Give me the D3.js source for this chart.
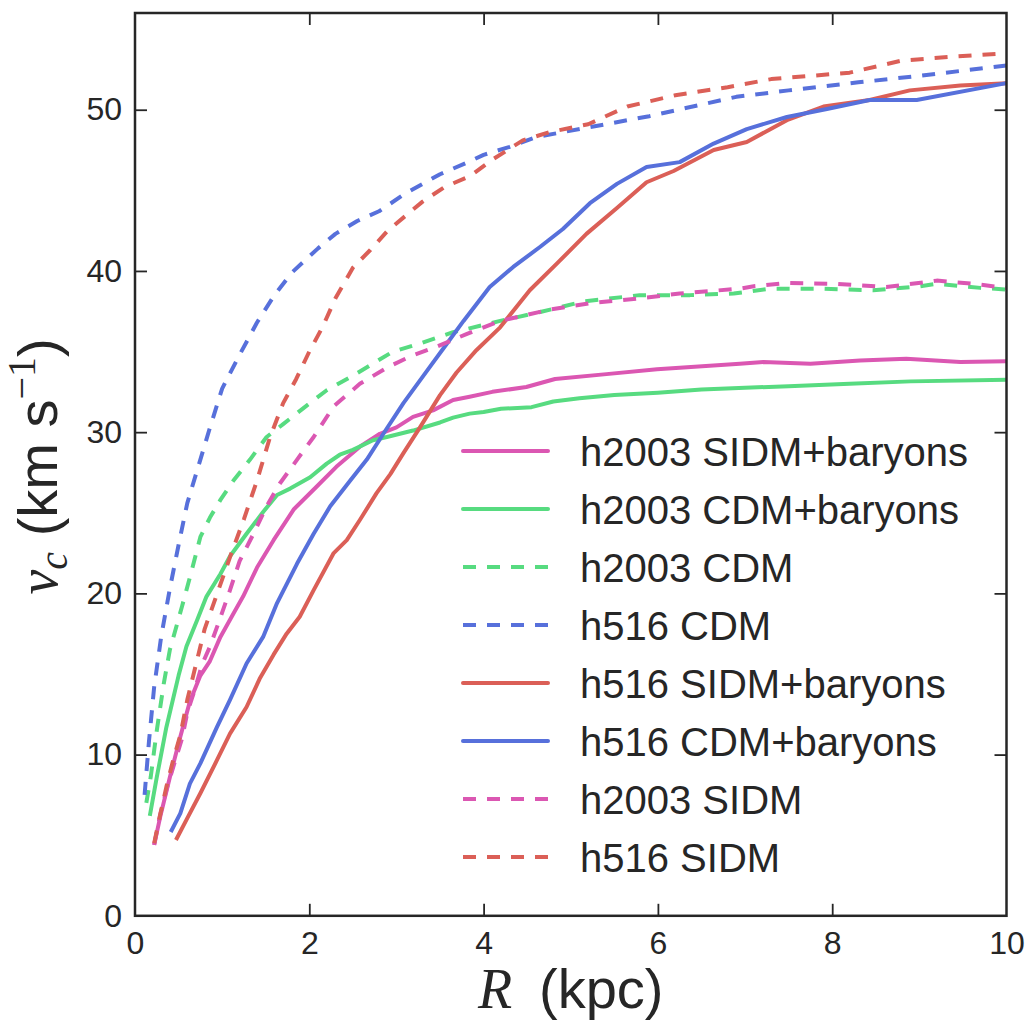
<!DOCTYPE html>
<html>
<head>
<meta charset="utf-8">
<script src="https://cdn.jsdelivr.net/npm/d3@7"></script>
<style>
  html, body { margin: 0; padding: 0; background: #fff; }
  svg { display: block; }
</style>
</head>
<body>
<svg id="chart" width="1031" height="1023"></svg>
<script>
// ---------- data ----------
const xTicks = [0, 2, 4, 6, 8, 10];
const yTicks = [0, 10, 20, 30, 40, 50];

const seriesNames = [
  "h2003 SIDM+baryons", "h2003 CDM+baryons", "h2003 CDM", "h516 CDM",
  "h516 SIDM+baryons", "h516 CDM+baryons", "h2003 SIDM", "h516 SIDM"
];

const R_h2003_SIDMb = [0.22, 0.29, 0.4, 0.52, 0.63, 0.75, 0.86, 0.98, 1.13, 1.24, 1.4, 1.59, 1.82, 2.08, 2.31, 2.58, 2.81, 3.0, 3.19, 3.42, 3.65, 3.84, 4.1, 4.49, 4.82, 5.41, 5.99, 6.94, 7.21, 7.75, 8.32, 8.85, 9.47, 10.0];
const V_h2003_SIDMb = [4.4, 6.15, 8.6, 11.1, 13.3, 14.9, 15.8, 17.3, 18.75, 19.8, 21.6, 23.3, 25.2, 26.6, 27.85, 29.1, 29.9, 30.3, 30.95, 31.35, 32.0, 32.2, 32.5, 32.8, 33.3, 33.6, 33.9, 34.25, 34.35, 34.25, 34.45, 34.55, 34.35, 34.4];

const R_h2003_CDMb = [0.17, 0.25, 0.36, 0.5, 0.59, 0.71, 0.82, 0.98, 1.09, 1.28, 1.47, 1.63, 1.78, 2.01, 2.2, 2.35, 2.5, 2.73, 2.89, 3.19, 3.5, 3.65, 3.84, 4.0, 4.2, 4.55, 4.8, 5.1, 5.5, 6.0, 6.5, 7.0, 7.5, 8.2, 8.9, 10.0];
const V_h2003_CDMb = [6.2, 8.6, 11.7, 14.9, 16.7, 18.3, 19.8, 21.2, 22.3, 23.7, 25.05, 26.1, 26.5, 27.2, 28.05, 28.6, 28.9, 29.5, 29.7, 30.1, 30.6, 30.9, 31.15, 31.25, 31.45, 31.55, 31.9, 32.1, 32.3, 32.45, 32.65, 32.75, 32.85, 33.0, 33.15, 33.25];

const R_h2003_CDM = [0.13, 0.18, 0.25, 0.33, 0.4, 0.54, 0.65, 0.75, 0.86, 0.98, 1.13, 1.32, 1.51, 1.7, 1.97, 2.2, 2.5, 2.73, 2.96, 3.27, 3.65, 3.81, 4.19, 4.65, 5.14, 5.79, 6.37, 6.87, 7.29, 7.86, 8.47, 9.01, 9.2, 9.7, 10.0];
const V_h2003_CDM = [7.0, 8.6, 11.5, 14.4, 16.5, 19.2, 21.4, 23.5, 24.7, 25.8, 27.0, 28.3, 29.7, 30.5, 31.65, 32.6, 33.5, 34.25, 35.0, 35.5, 36.2, 36.4, 36.9, 37.45, 38.1, 38.5, 38.5, 38.6, 38.9, 38.9, 38.8, 39.05, 39.2, 38.95, 38.85];

const R_h516_CDM = [0.11, 0.16, 0.22, 0.3, 0.4, 0.5, 0.6, 0.7, 0.85, 1.0, 1.2, 1.4, 1.6, 1.8, 2.1, 2.3, 2.55, 2.8, 3.1, 3.5, 3.8, 4.0, 4.3, 4.6, 5.2, 5.9, 6.9, 7.5, 8.3, 9.0, 10.0];
const V_h516_CDM = [7.5, 10.8, 14.2, 17.3, 20.3, 23.0, 25.6, 27.4, 30.1, 32.7, 34.8, 36.8, 38.5, 39.9, 41.4, 42.3, 43.1, 43.7, 44.8, 46.0, 46.7, 47.2, 47.7, 48.3, 48.9, 49.6, 50.8, 51.2, 51.7, 52.1, 52.75];

const R_h516_SIDMb = [0.47, 0.59, 0.75, 0.94, 1.09, 1.28, 1.43, 1.59, 1.74, 1.89, 2.05, 2.28, 2.43, 2.58, 2.77, 2.93, 3.08, 3.27, 3.5, 3.69, 3.92, 4.19, 4.53, 4.84, 5.18, 5.53, 5.87, 6.18, 6.64, 7.02, 7.48, 7.9, 8.43, 8.89, 9.47, 10.0];
const V_h516_SIDMb = [4.7, 5.95, 7.6, 9.65, 11.3, 12.95, 14.7, 16.2, 17.5, 18.55, 20.2, 22.5, 23.3, 24.55, 26.2, 27.4, 28.7, 30.3, 32.3, 33.7, 35.1, 36.5, 38.8, 40.45, 42.3, 43.9, 45.5, 46.2, 47.5, 48.0, 49.35, 50.2, 50.6, 51.2, 51.5, 51.65];

const R_h516_CDMb = [0.41, 0.52, 0.63, 0.75, 0.94, 1.09, 1.28, 1.47, 1.63, 1.86, 2.05, 2.24, 2.47, 2.66, 2.85, 3.08, 3.35, 3.58, 3.77, 4.07, 4.34, 4.65, 4.91, 5.22, 5.53, 5.87, 6.25, 6.64, 7.02, 7.48, 7.94, 8.43, 8.97, 10.0];
const V_h516_CDMb = [5.2, 6.35, 8.2, 9.45, 11.7, 13.4, 15.65, 17.3, 19.4, 21.85, 23.7, 25.4, 27.0, 28.3, 29.9, 31.8, 33.8, 35.5, 36.9, 39.0, 40.25, 41.5, 42.6, 44.2, 45.4, 46.45, 46.75, 47.9, 48.8, 49.55, 50.05, 50.6, 50.6, 51.65];

const R_h2003_SIDM = [0.22, 0.29, 0.37, 0.46, 0.54, 0.6, 0.69, 0.77, 0.86, 0.98, 1.09, 1.2, 1.36, 1.51, 1.66, 1.86, 2.05, 2.28, 2.58, 2.89, 3.16, 3.46, 3.81, 4.19, 4.76, 5.22, 5.79, 6.25, 6.94, 7.1, 7.48, 8.05, 8.62, 9.2, 9.62, 10.0];
const V_h2003_SIDM = [4.4, 6.3, 8.0, 9.6, 11.0, 12.6, 14.1, 15.6, 16.7, 18.5, 20.2, 22.0, 23.7, 25.4, 26.8, 28.3, 29.7, 31.6, 33.0, 34.0, 34.7, 35.3, 36.1, 36.9, 37.6, 38.0, 38.3, 38.6, 38.9, 39.05, 39.25, 39.2, 39.0, 39.4, 39.2, 38.95];

const R_h516_SIDM = [0.22, 0.29, 0.36, 0.44, 0.52, 0.6, 0.7, 0.8, 0.95, 1.1, 1.25, 1.4, 1.55, 1.7, 1.85, 2.0, 2.15, 2.3, 2.5, 2.7, 2.9, 3.1, 3.3, 3.55, 3.85, 4.1, 4.45, 4.75, 5.2, 5.65, 6.2, 6.8, 7.3, 8.2, 8.8, 9.4, 10.0];
const V_h516_SIDM = [4.5, 6.3, 8.0, 9.7, 11.2, 13.4, 15.6, 17.8, 20.1, 22.4, 24.6, 27.0, 29.7, 31.8, 33.3, 35.0, 36.5, 38.3, 40.2, 41.3, 42.5, 43.4, 44.3, 45.2, 45.9, 46.9, 48.1, 48.6, 49.1, 50.2, 50.9, 51.4, 51.9, 52.3, 53.05, 53.3, 53.5];

// ---------- styles ----------
const PINK = "#db57b2", GREEN = "#57db80", BLUE = "#5770db", RED = "#db5f57";
const series = [
  { name: seriesNames[0], R: R_h2003_SIDMb, V: V_h2003_SIDMb, color: PINK,  dashed: false },
  { name: seriesNames[1], R: R_h2003_CDMb,  V: V_h2003_CDMb,  color: GREEN, dashed: false },
  { name: seriesNames[2], R: R_h2003_CDM,   V: V_h2003_CDM,   color: GREEN, dashed: true },
  { name: seriesNames[3], R: R_h516_CDM,    V: V_h516_CDM,    color: BLUE,  dashed: true },
  { name: seriesNames[4], R: R_h516_SIDMb,  V: V_h516_SIDMb,  color: RED,   dashed: false },
  { name: seriesNames[5], R: R_h516_CDMb,   V: V_h516_CDMb,   color: BLUE,  dashed: false },
  { name: seriesNames[6], R: R_h2003_SIDM,  V: V_h2003_SIDM,  color: PINK,  dashed: true },
  { name: seriesNames[7], R: R_h516_SIDM,   V: V_h516_SIDM,   color: RED,   dashed: true }
];

const PL = 135, PR = 1006.5, PT = 13, PB = 915.8;
const INK = "#262626";
const SANS = "'Liberation Sans', Arial, Helvetica, sans-serif";
const SERIF = "'Liberation Serif', 'DejaVu Serif', serif";
const DASH = "13,11";
const LW = 4;

const svg = d3.select("#chart");
const x = d3.scaleLinear().domain([0, 10]).range([PL, PR]);
const y = d3.scaleLinear().domain([0, 56]).range([PB, PT]);

svg.append("defs").append("clipPath").attr("id", "plotclip")
  .append("rect").attr("x", PL).attr("y", PT)
  .attr("width", PR - PL).attr("height", PB - PT);

const line = d3.line().x(d => x(d[0])).y(d => y(d[1]));
const gLines = svg.append("g").attr("clip-path", "url(#plotclip)");
series.forEach(s => {
  const pts = s.R.map((r, i) => [r, s.V[i]]);
  gLines.append("path")
    .attr("d", line(pts))
    .attr("fill", "none")
    .attr("stroke", s.color)
    .attr("stroke-width", LW)
    .attr("stroke-linejoin", "round")
    .attr("stroke-dasharray", s.dashed ? DASH : null);
});

// axes (ticks inward on all sides)
const TL = 12;
function styleAxis(g) {
  g.select(".domain").remove();
  g.selectAll(".tick line").attr("stroke", INK).attr("stroke-width", 1.8);
  g.selectAll(".tick text").attr("fill", INK).attr("font-family", SANS).attr("font-size", 32);
}
const gxB = svg.append("g").attr("transform", `translate(0,${PB})`)
  .call(d3.axisBottom(x).tickValues(xTicks).tickFormat(d3.format("d")).tickSizeInner(-TL).tickSizeOuter(0).tickPadding(15));
styleAxis(gxB);
const gxT = svg.append("g").attr("transform", `translate(0,${PT})`)
  .call(d3.axisTop(x).tickValues(xTicks).tickFormat("").tickSizeInner(-TL).tickSizeOuter(0));
styleAxis(gxT);
const gyL = svg.append("g").attr("transform", `translate(${PL},0)`)
  .call(d3.axisLeft(y).tickValues(yTicks).tickFormat(d3.format("d")).tickSizeInner(-TL).tickSizeOuter(0).tickPadding(13));
styleAxis(gyL);
const gyR = svg.append("g").attr("transform", `translate(${PR},0)`)
  .call(d3.axisRight(y).tickValues(yTicks).tickFormat("").tickSizeInner(-TL).tickSizeOuter(0));
styleAxis(gyR);
[gxB, gxT].forEach(g => g.selectAll(".tick").filter(d => d === 0 || d === 10).select("line").remove());
[gyL, gyR].forEach(g => g.selectAll(".tick").filter(d => d === 0).select("line").remove());

// spines
svg.append("rect").attr("x", PL).attr("y", PT)
  .attr("width", PR - PL).attr("height", PB - PT)
  .attr("fill", "none").attr("stroke", INK).attr("stroke-width", 2.5);

// x label
const xl = svg.append("text").attr("x", (PL + PR) / 2).attr("y", 1008)
  .attr("text-anchor", "middle").attr("fill", INK).attr("font-size", 56).attr("font-family", SANS);
xl.append("tspan").attr("font-family", SERIF).attr("font-style", "italic").text("R");
xl.append("tspan").text("\u2009 (kpc)");

// y label
const yl = svg.append("text")
  .attr("transform", `translate(57,${(PT + PB) / 2 + 2}) rotate(-90)`)
  .attr("text-anchor", "middle").attr("fill", INK).attr("font-size", 56).attr("font-family", SANS);
yl.append("tspan").attr("font-family", SERIF).attr("font-style", "italic").text("v");
yl.append("tspan").attr("font-family", SERIF).attr("font-style", "italic").attr("font-size", 40).attr("dy", 10).text("c");
yl.append("tspan").attr("dy", -10).text(" (km s");
yl.append("tspan").attr("font-family", SERIF).attr("font-size", 40).attr("dy", -22).text("\u22121");
yl.append("tspan").attr("dy", 22).text(")");

// legend
const legX0 = 463, legX1 = 548, legTx = 580, legY0 = 451, legDy = 58;
const gLeg = svg.append("g");
series.forEach((s, i) => {
  const yy = legY0 + i * legDy;
  gLeg.append("line").attr("x1", legX0).attr("x2", legX1).attr("y1", yy).attr("y2", yy)
    .attr("stroke", s.color).attr("stroke-width", LW)
    .attr("stroke-linecap", s.dashed ? "butt" : "round")
    .attr("stroke-dasharray", s.dashed ? DASH : null);
  gLeg.append("text").attr("x", legTx).attr("y", yy + 14.5)
    .attr("fill", INK).attr("font-family", SANS).attr("font-size", 40).text(s.name);
});
</script>
</body>
</html>
